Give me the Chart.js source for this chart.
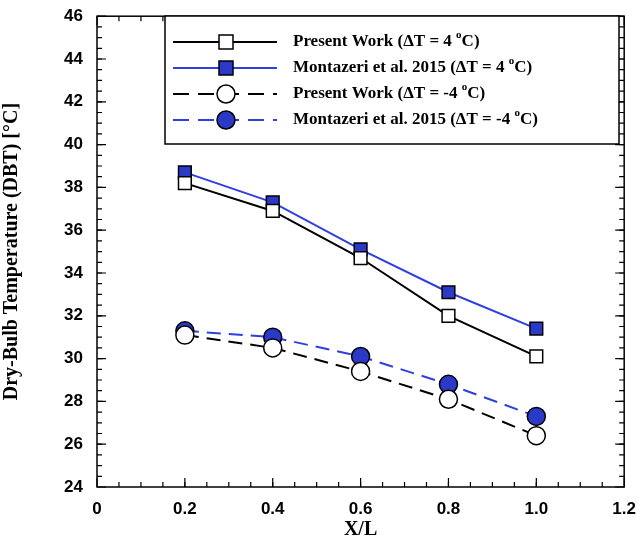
<!DOCTYPE html>
<html>
<head>
<meta charset="utf-8">
<script src="https://cdn.jsdelivr.net/npm/chart.js@4"></script>
<style>
  html, body { margin: 0; padding: 0; background: #fff; }
  #wrap { width: 640px; height: 542px; }
</style>
</head>
<body>
<div id="wrap"><canvas id="c" width="640" height="542"></canvas></div>
<script>
// ================= DATA =================
const xPositions = [0.2, 0.4, 0.6, 0.8, 1.0];
const presentPos = [38.2, 36.9, 34.7, 32.0, 30.1];
const montazeriPos = [38.7, 37.3, 35.1, 33.1, 31.4];
const presentNeg = [31.1, 30.5, 29.4, 28.1, 26.4];
const montazeriNeg = [31.3, 31.0, 30.1, 28.8, 27.3];
const xTicks = [0, 0.2, 0.4, 0.6, 0.8, 1, 1.2];
const yTicks = [24, 26, 28, 30, 32, 34, 36, 38, 40, 42, 44, 46];

const BLUE = '#2f3fe0';
const BLUE_FILL = '#2b39c8';

function pts(ys) {
    return xPositions.map((x, i) => ({ x: x, y: ys[i] }));
}

const series = [
    { label: 'Present Work (\u0394T = 4 ', sup: 'o', tail: 'C)', data: presentPos, color: '#000', fill: '#fff', style: 'rect', dash: [] },
    { label: 'Montazeri et al. 2015 (\u0394T = 4 ', sup: 'o', tail: 'C)', data: montazeriPos, color: BLUE, fill: BLUE_FILL, style: 'rect', dash: [] },
    { label: 'Present Work (\u0394T = -4 ', sup: 'o', tail: 'C)', data: presentNeg, color: '#000', fill: '#fff', style: 'circle', dash: [14, 8] },
    { label: 'Montazeri et al. 2015 (\u0394T = -4 ', sup: 'o', tail: 'C)', data: montazeriNeg, color: BLUE, fill: BLUE_FILL, style: 'circle', dash: [14, 8] }
];

// ================= PLUGINS =================
const frameAndLegend = {
    id: 'frameAndLegend',
    afterDraw(chart) {
        const ctx = chart.ctx;
        const a = chart.chartArea;
        const xs = chart.scales.x, ys = chart.scales.y;
        ctx.save();
        ctx.strokeStyle = '#000';
        ctx.lineWidth = 1.5;
        ctx.strokeRect(a.left, a.top, a.right - a.left, a.bottom - a.top);

        // inward ticks
        ctx.lineWidth = 1.2;
        xTicks.forEach(v => {
            const p = xs.getPixelForValue(v);
            ctx.beginPath(); ctx.moveTo(p, a.bottom); ctx.lineTo(p, a.bottom - 9);
            ctx.moveTo(p, a.top); ctx.lineTo(p, a.top + 9); ctx.stroke();
        });
        for (let v = 0.05; v < 1.2; v += 0.05) {
            const p = xs.getPixelForValue(v);
            ctx.beginPath(); ctx.moveTo(p, a.bottom); ctx.lineTo(p, a.bottom - 5);
            ctx.moveTo(p, a.top); ctx.lineTo(p, a.top + 5); ctx.stroke();
        }
        yTicks.forEach(v => {
            const p = ys.getPixelForValue(v);
            ctx.beginPath(); ctx.moveTo(a.left, p); ctx.lineTo(a.left + 9, p);
            ctx.moveTo(a.right, p); ctx.lineTo(a.right - 9, p); ctx.stroke();
        });
        for (let v = 24.5; v < 46; v += 0.5) {
            const p = ys.getPixelForValue(v);
            ctx.beginPath(); ctx.moveTo(a.left, p); ctx.lineTo(a.left + 5, p);
            ctx.moveTo(a.right, p); ctx.lineTo(a.right - 5, p); ctx.stroke();
        }

        // legend box
        const bx = 165, by = 16, bw = 454, bh = 128;
        ctx.fillStyle = '#fff';
        ctx.fillRect(bx, by, bw, bh);
        ctx.lineWidth = 1.5;
        ctx.strokeRect(bx, by, bw, bh);
        series.forEach((s, i) => {
            const cy = by + 26 + i * 26;
            ctx.strokeStyle = s.color;
            ctx.lineWidth = 2;
            ctx.setLineDash(s.dash.length ? [16, 9] : []);
            ctx.beginPath(); ctx.moveTo(bx + 8, cy); ctx.lineTo(bx + 112, cy); ctx.stroke();
            ctx.setLineDash([]);
            ctx.fillStyle = s.fill;
            ctx.strokeStyle = '#000';
            ctx.lineWidth = 1.5;
            const mx = bx + 61;
            if (s.style === 'rect') {
                ctx.fillRect(mx - 7, cy - 7, 14, 14);
                ctx.strokeRect(mx - 7, cy - 7, 14, 14);
            } else {
                ctx.beginPath(); ctx.arc(mx, cy, 9, 0, Math.PI * 2); ctx.fill(); ctx.stroke();
            }
            ctx.fillStyle = '#000';
            ctx.textBaseline = 'middle';
            ctx.font = 'bold 17px "Liberation Serif"';
            let tx = bx + 128;
            ctx.fillText(s.label, tx, cy);
            tx += ctx.measureText(s.label).width;
            ctx.font = 'bold 11px "Liberation Serif"';
            ctx.fillText(s.sup, tx, cy - 7);
            tx += ctx.measureText(s.sup).width;
            ctx.font = 'bold 17px "Liberation Serif"';
            ctx.fillText(s.tail, tx, cy);
        });
        ctx.restore();
    }
};

// ================= CHART =================
new Chart(document.getElementById('c'), {
    type: 'scatter',
    data: {
        datasets: series.map(s => ({
            label: s.label,
            data: pts(s.data),
            showLine: true,
            borderColor: s.color,
            borderWidth: 2,
            borderDash: s.dash,
            pointStyle: s.style,
            pointRadius: s.style === 'rect' ? 9 : 9,
            pointBackgroundColor: s.fill,
            pointBorderColor: '#000',
            pointBorderWidth: 1.5
        }))
    },
    options: {
        responsive: false,
        animation: false,
        layout: { padding: { top: 5, right: 12 } },
        plugins: { legend: { display: false }, tooltip: { enabled: false } },
        scales: {
            x: {
                type: 'linear', min: 0, max: 1.2,
                afterBuildTicks: ax => { ax.ticks = xTicks.map(v => ({ value: v })); },
                afterFit: ax => { ax.height = 55; },
                grid: { display: false },
                border: { display: false },
                ticks: { color: '#000', font: { family: 'Liberation Sans', weight: 'bold', size: 17 }, padding: 4 },
                title: { display: true, text: 'X/L', color: '#000', padding: 0, font: { family: 'Liberation Serif', weight: 'bold', size: 20 } }
            },
            y: {
                type: 'linear', min: 24, max: 46,
                afterBuildTicks: ax => { ax.ticks = yTicks.map(v => ({ value: v })); },
                afterFit: ax => { ax.width = 97; },
                grid: { display: false },
                border: { display: false },
                ticks: { color: '#000', font: { family: 'Liberation Sans', weight: 'bold', size: 17 }, padding: 6 },
                title: { display: true, text: 'Dry-Bulb Temperature (DBT) [\u00B0C]', color: '#000', padding: 0, font: { family: 'Liberation Serif', weight: 'bold', size: 20 } }
            }
        }
    },
    plugins: [frameAndLegend]
});
</script>
</body>
</html>
